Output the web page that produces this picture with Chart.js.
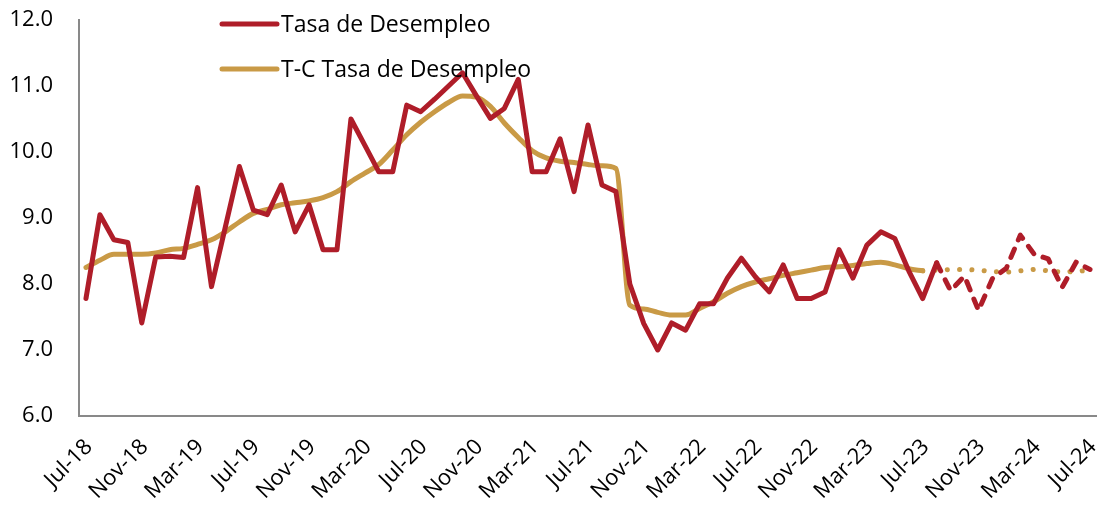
<!DOCTYPE html>
<html>
<head>
<meta charset="utf-8">
<script src="https://cdn.jsdelivr.net/npm/chart.js@4.4.1/dist/chart.umd.min.js"></script>
<style>
  html, body { margin: 0; padding: 0; background: #fff; }
  #wrap { position: relative; width: 1097px; height: 510px; }
</style>
</head>
<body>
<div id="wrap"><canvas id="grafico"></canvas></div>
<script>
// meses (Jul-18 a Jul-24)
const meses = [
  'Jul-18','Aug-18','Sep-18','Oct-18','Nov-18','Dec-18',
  'Jan-19','Feb-19','Mar-19','Apr-19','May-19','Jun-19','Jul-19','Aug-19','Sep-19','Oct-19','Nov-19','Dec-19',
  'Jan-20','Feb-20','Mar-20','Apr-20','May-20','Jun-20','Jul-20','Aug-20','Sep-20','Oct-20','Nov-20','Dec-20',
  'Jan-21','Feb-21','Mar-21','Apr-21','May-21','Jun-21','Jul-21','Aug-21','Sep-21','Oct-21','Nov-21','Dec-21',
  'Jan-22','Feb-22','Mar-22','Apr-22','May-22','Jun-22','Jul-22','Aug-22','Sep-22','Oct-22','Nov-22','Dec-22',
  'Jan-23','Feb-23','Mar-23','Apr-23','May-23','Jun-23','Jul-23','Aug-23','Sep-23','Oct-23','Nov-23','Dec-23',
  'Jan-24','Feb-24','Mar-24','Apr-24','May-24','Jun-24','Jul-24'
];

// Tasa de Desempleo, observada (Jul-18 .. Aug-23)
const tasa = [
  7.78, 9.05, 8.67, 8.63, 7.41, 8.41, 8.42, 8.40, 9.46, 7.96, 8.87, 9.78,
  9.12, 9.05, 9.50, 8.79, 9.20, 8.52, 8.52, 10.50, 10.10, 9.70, 9.70, 10.71,
  10.61, 10.80, 11.00, 11.20, 10.85, 10.51, 10.66, 11.10, 9.70, 9.70, 10.20, 9.40,
  10.41, 9.50, 9.40, 8.00, 7.40, 7.00, 7.41, 7.30, 7.70, 7.70, 8.09, 8.39,
  8.11, 7.88, 8.29, 7.78, 7.78, 7.88, 8.52, 8.09, 8.59, 8.79, 8.69, 8.20,
  7.78, 8.32
];
// Tasa de Desempleo, tramo punteado (Aug-23 .. Jul-24)
const tasaProy = [8.32, 7.90, 8.12, 7.60, 8.08, 8.24, 8.74, 8.45, 8.38, 7.95, 8.33, 8.22];

// T-C Tasa de Desempleo (Jul-18 .. Jul-23)
const tc = [
  8.25, 8.36, 8.45, 8.45, 8.45, 8.47, 8.52, 8.54, 8.60, 8.67, 8.79, 8.94,
  9.07, 9.13, 9.20, 9.23, 9.26, 9.31, 9.40, 9.55, 9.68, 9.81, 10.03, 10.26,
  10.45, 10.61, 10.75, 10.85, 10.83, 10.69, 10.44, 10.22, 10.02, 9.91, 9.86, 9.84,
  9.81, 9.79, 9.75, 7.68, 7.62, 7.57, 7.53, 7.53, 7.63, 7.73, 7.86, 7.96,
  8.03, 8.08, 8.13, 8.17, 8.21, 8.25, 8.26, 8.28, 8.31, 8.33, 8.29, 8.23,
  8.20
];
// T-C, tramo punteado (Jul-23 .. Jul-24)
const tcProy = [8.20, 8.21, 8.22, 8.22, 8.21, 8.19, 8.18, 8.20, 8.22, 8.20, 8.18, 8.19, 8.21];

const rojo = '#AF1D29';
const dorado = '#C99A46';
const fuente = "'Open Sans', sans-serif";

// rellena con null para alinear cada tramo con los meses
function alinear(valores, inicio) {
  const out = new Array(meses.length).fill(null);
  valores.forEach((v, i) => { out[inicio + i] = v; });
  return out;
}

// leyenda dibujada dentro del area del grafico
const leyenda = {
  id: 'leyenda',
  afterDraw(chart) {
    const ctx = chart.ctx;
    const x0 = chart.chartArea.left + 143;
    const items = [
      { texto: 'Tasa de Desempleo', color: rojo, y: 24 },
      { texto: 'T-C Tasa de Desempleo', color: dorado, y: 69 }
    ];
    ctx.save();
    items.forEach(it => {
      ctx.strokeStyle = it.color;
      ctx.lineWidth = 5;
      ctx.lineCap = 'round';
      ctx.beginPath();
      ctx.moveTo(x0, it.y);
      ctx.lineTo(x0 + 55, it.y);
      ctx.stroke();
      ctx.fillStyle = '#000';
      ctx.font = '23px ' + fuente;
      ctx.textBaseline = 'middle';
      ctx.fillText(it.texto, x0 + 59, it.y + 1);
    });
    ctx.restore();
  }
};

const ctx = document.getElementById('grafico').getContext('2d');
new Chart(ctx, {
  type: 'line',
  data: {
    labels: meses,
    datasets: [
      {
        label: 'T-C Tasa de Desempleo',
        data: alinear(tc, 0),
        borderColor: dorado,
        borderWidth: 5,
        cubicInterpolationMode: 'monotone',
        borderCapStyle: 'round',
        borderJoinStyle: 'round',
        pointRadius: 0,
        order: 2
      },
      {
        label: 'T-C proy',
        data: alinear(tcProy, tc.length - 1),
        borderColor: dorado,
        borderWidth: 5,
        borderDash: [0.1, 12.2],
        borderCapStyle: 'round',
        pointRadius: 0,
        order: 3
      },
      {
        label: 'Tasa de Desempleo',
        data: alinear(tasa, 0),
        borderColor: rojo,
        borderWidth: 5,
        tension: 0,
        borderCapStyle: 'round',
        borderJoinStyle: 'round',
        pointRadius: 0,
        order: 1
      },
      {
        label: 'Tasa proy',
        data: alinear(tasaProy, tasa.length - 1),
        borderColor: rojo,
        borderWidth: 5,
        borderDash: [9, 10],
        borderCapStyle: 'round',
        borderJoinStyle: 'round',
        tension: 0,
        pointRadius: 0,
        order: 0
      }
    ]
  },
  options: {
    responsive: true,
    maintainAspectRatio: false,
    animation: false,
    layout: { padding: { top: 20, right: 0, left: 0, bottom: 0 } },
    plugins: {
      legend: { display: false },
      tooltip: { enabled: false }
    },
    scales: {
      x: {
        offset: true,
        grid: { display: false, drawTicks: false },
        border: { display: true, color: '#898989', width: 2 },
        ticks: {
          autoSkip: false,
          maxRotation: 45,
          minRotation: 45,
          padding: 18,
          labelOffset: 3,
          color: '#000',
          font: { family: fuente, size: 22 },
          callback: function(value, index) {
            return index % 4 === 0 ? this.getLabelForValue(value) : null;
          }
        },
        afterFit: (scale) => {
          scale.height = 94;
          scale.paddingLeft = 0;
          scale.paddingRight = 0;
        }
      },
      y: {
        min: 6,
        max: 12,
        grid: { display: false, drawTicks: false },
        border: { display: true, color: '#898989', width: 2 },
        ticks: {
          stepSize: 1,
          padding: 26,
          color: '#000',
          font: { family: fuente, size: 22 },
          callback: (v) => v.toFixed(1)
        },
        afterFit: (scale) => {
          scale.width = 79;
          scale.paddingTop = 0;
          scale.paddingBottom = 0;
        }
      }
    }
  },
  plugins: [leyenda]
});
</script>
</body>
</html>
